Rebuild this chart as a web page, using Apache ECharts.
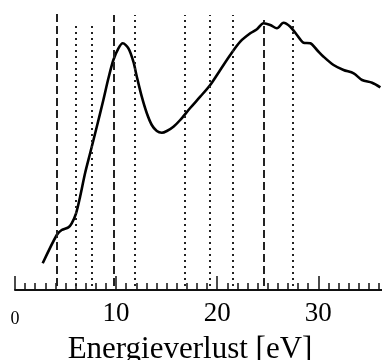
<!DOCTYPE html>
<html>
<head>
<meta charset="utf-8">
<script src="https://cdn.jsdelivr.net/npm/echarts@6/dist/echarts.min.js"></script>
<style>
  html, body { margin: 0; padding: 0; background: #fff; }
  #chart { width: 382px; height: 360px; }
</style>
</head>
<body>
<div id="chart"></div>
<script>
// Energy-loss spectrum: energy loss (eV) and relative intensity (arb. units)
const energy = [2.74, 4.13, 4.62, 5.28, 5.61, 6.04, 6.44, 6.93, 7.43, 8.09, 8.74, 9.24, 9.73,
  10.23, 10.66, 11.22, 11.71, 12.05, 12.54, 13.04, 13.53, 14.03, 14.52, 15.02, 15.67, 16.34,
  17.33, 18.32, 19.31, 20.30, 21.29, 22.28, 23.27, 23.93, 24.58, 25.25, 25.91, 26.56, 27.23,
  27.89, 28.54, 29.21, 29.87, 30.52, 31.51, 32.50, 33.50, 34.33, 35.32, 36.14];
const intensity = [26.7, 55, 60, 62.7, 66.7, 76.7, 93.3, 116.7, 136.7, 163.3, 190, 211.7, 230,
  241.7, 246.7, 241.7, 228.3, 213.3, 193.3, 176.7, 165, 159, 157.3, 159, 163.3, 170,
  182, 193.3, 205, 220, 235, 248.3, 256.7, 260.7, 266.7, 265, 261.7, 267.3, 263.3,
  255, 247.3, 246.7, 240, 233.3, 225, 220, 216.7, 210, 207.3, 202.7];

// Reference energies marked by vertical lines, their upper ends and line kind
const markerEnergy = [4.13, 6.0, 7.6, 9.8, 11.8, 16.8, 19.3, 21.55, 24.6, 27.5];
const markerTop    = [277, 266, 266, 275, 275, 275, 275, 275, 270, 274];
const markerKind   = ['dash', 'dot', 'dot', 'dash', 'dot', 'dot', 'dot', 'dot', 'dash', 'dot'];

// Axis tick labels
const tickLabels = [0, 10, 20, 30];
const axisTitle = 'Energieverlust [eV]';

const serif = '"Liberation Serif", "Times New Roman", serif';
const xMin = 0, xMax = 36.5;

const markerLines = markerEnergy.map((e, i) => {
  const dash = markerKind[i] === 'dash';
  return [
    { coord: [e, 4] },
    { coord: [e, markerTop[i]],
      lineStyle: { type: dash ? [8, 4] : [2, 4], width: 2, color: '#222' } }
  ];
});

const chart = echarts.init(document.getElementById('chart'));
chart.setOption({
  animation: false,
  backgroundColor: '#fff',
  grid: { left: 15, right: -2, top: 0, bottom: 70, containLabel: false, outerBoundsMode: 'none' },
  xAxis: [
    {
      type: 'value', min: xMin, max: xMax, interval: 10,
      axisLine: { show: true, lineStyle: { color: '#111', width: 2 } },
      axisTick: { show: true, inside: true, length: 14, lineStyle: { color: '#111', width: 1.5 },
        customValues: tickLabels },
      splitLine: { show: false },
      axisLabel: {
        show: true, margin: 10, color: '#000', fontFamily: serif, fontSize: 27,
        customValues: tickLabels,
        formatter: v => (v === 0 ? '{s|0}' : String(v)),
        rich: { s: { fontFamily: serif, fontSize: 18, color: '#000', padding: [10, 0, 0, 0] } }
      },
      name: axisTitle, nameLocation: 'middle', nameGap: 44,
      nameTextStyle: { fontFamily: serif, fontSize: 31, color: '#000', padding: [0, 19, 0, 0] }
    },
    {
      type: 'value', min: xMin, max: xMax, interval: 1, position: 'bottom',
      axisLine: { show: false },
      axisTick: { show: true, inside: true, length: 7, lineStyle: { color: '#111', width: 1.5 } },
      axisLabel: { show: false },
      splitLine: { show: false }
    }
  ],
  yAxis: { type: 'value', min: 0, max: 290, show: false },
  series: [{
    type: 'line',
    xAxisIndex: 0,
    data: energy.map((e, i) => [e, intensity[i]]),
    showSymbol: false,
    smooth: 0.3,
    lineStyle: { color: '#000', width: 2.6 },
    markLine: {
      silent: true, symbol: ['none', 'none'], label: { show: false },
      lineStyle: { color: '#222' },
      data: markerLines
    },
    z: 3
  }]
});
</script>
</body>
</html>
